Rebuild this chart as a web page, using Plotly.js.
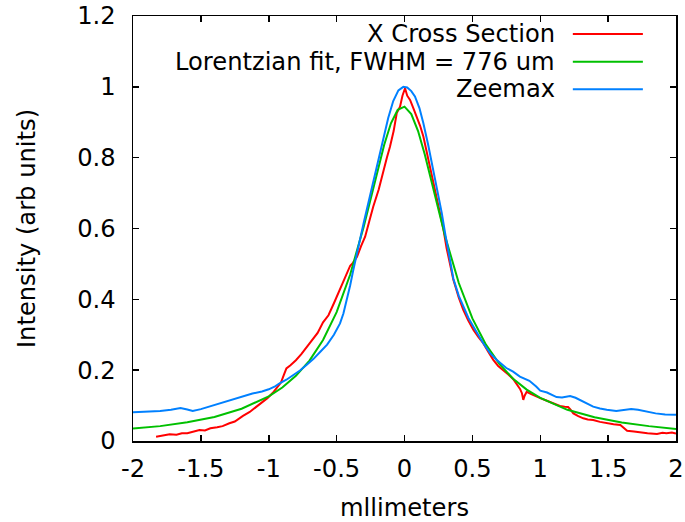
<!DOCTYPE html>
<html>
<head>
<meta charset="utf-8">
<script src="https://cdn.plot.ly/plotly-3.0.1.min.js"></script>
<style>
  html, body { margin: 0; padding: 0; background: #ffffff; }
  #plot { width: 685px; height: 522px; }
</style>
</head>
<body>
<div id="plot"></div>
<script>
// Measured cross section through the spot (mm, normalised intensity)
const crossX = [-1.83, -1.78, -1.73, -1.68, -1.64, -1.60, -1.55, -1.51, -1.47, -1.43,
  -1.38, -1.34, -1.29, -1.25, -1.19, -1.14, -1.09, -1.05, -1.01, -0.97,
  -0.94, -0.91, -0.89, -0.87, -0.84, -0.80, -0.76, -0.72, -0.68, -0.64,
  -0.60, -0.56, -0.52, -0.49, -0.46, -0.43, -0.40, -0.38, -0.35, -0.32,
  -0.29, -0.26, -0.23, -0.19, -0.156, -0.13, -0.107, -0.08, -0.057, -0.033,
  -0.015, 0.004, 0.02, 0.041, 0.065, 0.09, 0.115, 0.139, 0.165, 0.188,
  0.21, 0.237, 0.26, 0.286, 0.31, 0.335, 0.36, 0.40, 0.433, 0.47,
  0.507, 0.545, 0.58, 0.62, 0.654, 0.69, 0.728, 0.765, 0.80, 0.83,
  0.851, 0.865, 0.875, 0.885, 0.90, 0.93, 0.97, 1.00, 1.04, 1.07,
  1.11, 1.145, 1.18, 1.205, 1.22, 1.244, 1.28, 1.317, 1.35, 1.39,
  1.44, 1.49, 1.54, 1.59, 1.62, 1.64, 1.69, 1.735, 1.79, 1.86,
  1.90, 1.93, 1.97, 2.00];
const crossY = [0.012, 0.016, 0.019, 0.018, 0.022, 0.022, 0.027, 0.031, 0.030, 0.036,
  0.039, 0.042, 0.050, 0.055, 0.071, 0.082, 0.097, 0.108, 0.121, 0.136,
  0.149, 0.165, 0.185, 0.205, 0.214, 0.228, 0.245, 0.265, 0.287, 0.305,
  0.335, 0.355, 0.389, 0.415, 0.445, 0.470, 0.495, 0.503, 0.520, 0.550,
  0.577, 0.620, 0.662, 0.710, 0.766, 0.800, 0.831, 0.875, 0.926, 0.944,
  0.975, 0.996, 0.975, 0.963, 0.940, 0.916, 0.890, 0.860, 0.815, 0.775,
  0.730, 0.690, 0.645, 0.600, 0.545, 0.500, 0.455, 0.405, 0.370, 0.340,
  0.314, 0.293, 0.276, 0.250, 0.229, 0.212, 0.201, 0.188, 0.175, 0.160,
  0.147, 0.135, 0.116, 0.128, 0.139, 0.133, 0.125, 0.121, 0.115, 0.111,
  0.105, 0.099, 0.097, 0.096, 0.090, 0.078, 0.070, 0.064, 0.061, 0.059,
  0.054, 0.050, 0.047, 0.045, 0.035, 0.029, 0.027, 0.024, 0.022, 0.020,
  0.023, 0.022, 0.024, 0.021];

// Lorentzian fit to the cross section
const fitX = [-2.0, -1.8, -1.6, -1.4, -1.2, -1.0, -0.9, -0.8, -0.7, -0.6,
  -0.5, -0.4, -0.3, -0.2, -0.15, -0.1, -0.05, 0.0, 0.05, 0.1,
  0.15, 0.2, 0.3, 0.4, 0.5, 0.6, 0.7, 0.8, 0.9, 1.0,
  1.2, 1.4, 1.6, 1.8, 2.0];
const fitY = [0.035, 0.042, 0.053, 0.068, 0.091, 0.126, 0.151, 0.184, 0.227, 0.285,
  0.364, 0.470, 0.606, 0.762, 0.836, 0.897, 0.935, 0.944, 0.923, 0.875,
  0.808, 0.731, 0.577, 0.446, 0.346, 0.272, 0.217, 0.176, 0.145, 0.122,
  0.088, 0.067, 0.052, 0.042, 0.034];

// Zeemax simulated profile
const zmxX = [-2.00, -1.90, -1.80, -1.72, -1.65, -1.60, -1.56, -1.50, -1.44, -1.36,
  -1.28, -1.20, -1.12, -1.05, -1.00, -0.95, -0.92, -0.87, -0.82, -0.77,
  -0.72, -0.67, -0.62, -0.57, -0.52, -0.475, -0.45, -0.426, -0.40, -0.38,
  -0.36, -0.33, -0.30, -0.27, -0.23, -0.19, -0.156, -0.12, -0.083, -0.045,
  -0.009, 0.02, 0.05, 0.077, 0.11, 0.139, 0.175, 0.212, 0.245, 0.274,
  0.30, 0.335, 0.36, 0.40, 0.433, 0.47, 0.507, 0.545, 0.58, 0.63,
  0.68, 0.75, 0.80, 0.85, 0.92, 0.97, 1.00, 1.05, 1.12, 1.16,
  1.22, 1.26, 1.30, 1.34, 1.39, 1.44, 1.49, 1.56, 1.62, 1.67,
  1.72, 1.78, 1.85, 1.92, 2.00];
const zmxY = [0.081, 0.082, 0.085, 0.088, 0.093, 0.089, 0.085, 0.090, 0.097, 0.106,
  0.115, 0.125, 0.134, 0.140, 0.146, 0.155, 0.163, 0.173, 0.186, 0.199,
  0.215, 0.232, 0.252, 0.272, 0.300, 0.332, 0.360, 0.396, 0.440, 0.478,
  0.516, 0.565, 0.617, 0.665, 0.728, 0.795, 0.852, 0.912, 0.960, 0.990,
  1.000, 0.998, 0.988, 0.973, 0.940, 0.897, 0.835, 0.766, 0.700, 0.645,
  0.585, 0.511, 0.458, 0.410, 0.379, 0.348, 0.323, 0.297, 0.276, 0.248,
  0.229, 0.206, 0.196, 0.182, 0.170, 0.154, 0.142, 0.137, 0.124, 0.123,
  0.127, 0.122, 0.114, 0.106, 0.097, 0.092, 0.088, 0.085, 0.087, 0.090,
  0.088, 0.083, 0.078, 0.075, 0.074];

const seriesNames = ['X Cross Section', 'Lorentzian fit, FWHM = 776 um', 'Zeemax'];
const seriesColors = ['#ff0000', '#00c000', '#0080ff'];

const xTickVals = [-2, -1.5, -1, -0.5, 0, 0.5, 1, 1.5, 2];
const xTickText = ['-2', '-1.5', '-1', '-0.5', '0', '0.5', '1', '1.5', '2'];
const yTickVals = [0, 0.2, 0.4, 0.6, 0.8, 1, 1.2];
const yTickText = ['0', '0.2', '0.4', '0.6', '0.8', '1', '1.2'];

const FONT = 'DejaVu Sans, sans-serif';
const FS = 24.2;

const xs = [crossX, fitX, zmxX];
const ys = [crossY, fitY, zmxY];

const traces = xs.map((xv, i) => ({
  type: 'scatter',
  mode: 'lines',
  x: xv,
  y: ys[i],
  name: seriesNames[i],
  line: { color: seriesColors[i], width: 2 },
  hoverinfo: 'skip',
  showlegend: false
}));

// Key in the top right corner: right-aligned labels with line samples after them
const keyRowsY = [0.9576, 0.8925, 0.8275];
const annotations = seriesNames.map((nm, i) => ({
  xref: 'paper', yref: 'paper',
  x: 0.781, y: keyRowsY[i],
  xanchor: 'right', yanchor: 'middle',
  text: nm, showarrow: false,
  font: { family: FONT, size: FS, color: '#000000' }
}));
const shapes = seriesColors.map((c, i) => ({
  type: 'line', xref: 'paper', yref: 'paper',
  x0: 0.810, x1: 0.939, y0: keyRowsY[i], y1: keyRowsY[i],
  line: { color: c, width: 2 }
}));

const axisCommon = {
  showgrid: false,
  zeroline: false,
  showline: true,
  linecolor: '#000000',
  linewidth: 1.5,
  mirror: 'ticks',
  ticks: 'inside',
  ticklen: 6,
  tickwidth: 1.5,
  tickcolor: '#000000',
  tickmode: 'array',
  tickfont: { family: FONT, size: FS, color: '#000000' }
};

const layout = {
  width: 685,
  height: 522,
  margin: { l: 133, r: 9, t: 16, b: 81 },
  paper_bgcolor: '#ffffff',
  plot_bgcolor: '#ffffff',
  showlegend: false,
  xaxis: Object.assign({}, axisCommon, {
    range: [-2, 2],
    tickvals: xTickVals,
    ticktext: xTickText,
    ticklabelstandoff: 5,
    title: { text: 'mllimeters', font: { family: FONT, size: FS, color: '#000000' }, standoff: 21 }
  }),
  yaxis: Object.assign({}, axisCommon, {
    range: [0, 1.2],
    tickvals: yTickVals,
    ticktext: yTickText,
    ticklabelstandoff: 11,
    title: { text: 'Intensity (arb units)', font: { family: FONT, size: FS, color: '#000000' }, standoff: 34 }
  }),
  annotations: annotations,
  shapes: shapes
};

Plotly.newPlot('plot', traces, layout, { displayModeBar: false, staticPlot: true });
</script>
</body>
</html>
